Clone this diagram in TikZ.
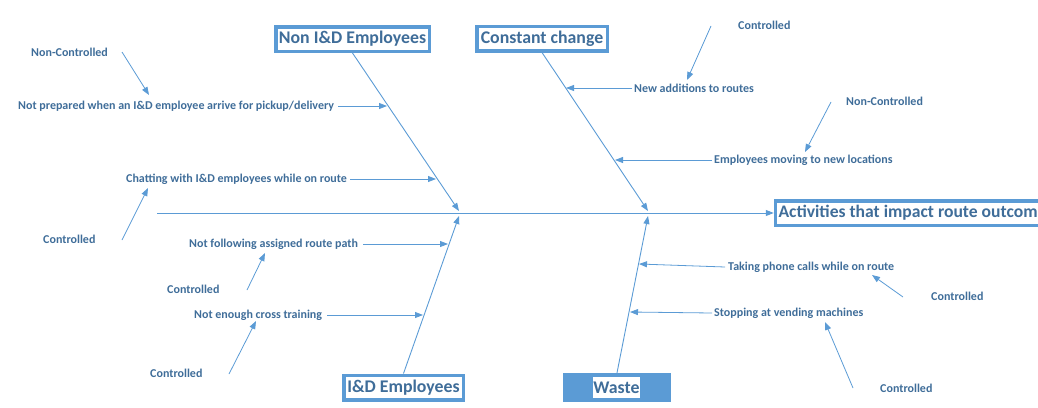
\documentclass[tikz,border=0pt]{standalone}
\usepackage{fontspec}
\setmainfont{Carlito}
\usetikzlibrary{arrows.meta}
\definecolor{acc}{HTML}{5B9BD5}
\definecolor{txt}{HTML}{3F6D99}
\begin{document}
\begin{tikzpicture}[x=1pt,y=-1pt,
  lbl/.style={font=\bfseries\fontsize{12}{14}\selectfont, text=txt, inner xsep=2pt, inner ysep=0pt, anchor=west},
  hdr/.style={draw=acc, line width=3.5pt, fill=white, font=\bfseries\fontsize{17.8}{20}\selectfont, text=txt, inner sep=0pt, minimum height=24.5pt},
  bone/.style={draw=acc, line width=0.9pt, -{Triangle[length=8pt,width=6pt]}},
  twig/.style={draw=acc, line width=0.8pt, -{Triangle[length=8pt,width=6pt]}},
]
\useasboundingbox (0,0) rectangle (1038,407);
\clip (0,0) rectangle (1038,407);

% heads
\node[hdr, minimum width=153.5pt] (nonid) at (352.5,39) {Non I\&D Employees};
\node[hdr, minimum width=130.5pt] (const) at (542,38.5) {Constant change};
\node[hdr, minimum width=119.5pt] (idemp) at (403.5,387.5) {I\&D Employees};
\node[fill=acc, minimum width=108pt, minimum height=29pt, inner sep=0pt] (waste) at (617,387.5) {};
\node[fill=white, text=txt, font=\bfseries\fontsize{17.8}{20}\selectfont, inner xsep=0.5pt, inner ysep=0pt, minimum height=21pt] (wastelbl) at (616.5,387.5) {Waste};
\node[hdr, anchor=west, inner xsep=3pt, font=\bfseries\fontsize{17.6}{20}\selectfont] (activ) at (773.75,213) {\makebox[285pt][l]{Activities that impact route outcom}};

% spine
\coordinate (tail) at (157,213);
\draw[bone] (tail) -- (activ.west);

% tips on spine
\coordinate (tipLu) at (459,211);
\coordinate (tipLd) at (459,216);
\coordinate (tipRu) at (648,211);
\coordinate (tipRd) at (648,216);
\draw[bone] (nonid.south) -- (tipLu);
\draw[bone] (const.south) -- (tipRu);
\draw[bone] (idemp.north) -- (tipLd);
\draw[bone] (waste.north) -- (tipRd);

% cause labels
\node[lbl] (c1) at (16,106) {Not prepared when an I\&D employee arrive for pickup/delivery};
\node[lbl] (c2) at (124,179) {Chatting with I\&D employees while on route};
\node[lbl] (c3) at (187,244) {Not following assigned route path};
\node[lbl] (c4) at (192,315) {Not enough cross training};
\node[lbl] (c5) at (632,88) {New additions to routes};
\node[lbl] (c6) at (712,160) {Employees moving to new locations};
\node[lbl] (c7) at (726,267) {Taking phone calls while on route};
\node[lbl] (c8) at (712,313) {Stopping at vending machines};

\coordinate (b1) at (387,106);
\coordinate (b2) at (436,179);
\coordinate (b3) at (448,244);
\coordinate (b4) at (423,315);
\coordinate (b5) at (566,88);
\coordinate (b6) at (615,160);
\coordinate (b7) at (639,264);
\coordinate (b8) at (630,312);
\draw[twig] ([xshift=2pt]c1.east) -- (b1);
\draw[twig] ([xshift=1pt]c2.east) -- (b2);
\draw[twig] ([xshift=3pt]c3.east) -- (b3);
\draw[twig] ([xshift=3pt]c4.east) -- (b4);
\draw[twig] (c5.west) -- (b5);
\draw[twig] (c6.west) -- (b6);
\draw[twig] ([xshift=-1pt]c7.west) -- (b7);
\draw[twig] (c8.west) -- (b8);

% control labels
\node[lbl] (k1) at (29,52) {Non-Controlled};
\node[lbl] (k2) at (41,239) {Controlled};
\node[lbl] (k3) at (165,289) {Controlled};
\node[lbl] (k4) at (148,373) {Controlled};
\node[lbl] (k5) at (736,25) {Controlled};
\node[lbl] (k6) at (844,101) {Non-Controlled};
\node[lbl] (k7) at (929,296) {Controlled};
\node[lbl] (k8) at (878,388) {Controlled};

\coordinate (s1) at (122,52);   \coordinate (t1) at (149,95);
\coordinate (s2) at (122,240);  \coordinate (t2) at (148,188);
\coordinate (s3) at (247,290);  \coordinate (t3) at (265,253);
\coordinate (s4) at (229,374);  \coordinate (t4) at (256,321);
\coordinate (s5) at (711,26);   \coordinate (t5) at (687,80);
\coordinate (s6) at (831,102);  \coordinate (t6) at (805,152);
\coordinate (s7) at (903,297);  \coordinate (t7) at (872,275);
\coordinate (s8) at (853,388);  \coordinate (t8) at (825,322);
\foreach \i in {1,...,8} {\draw[twig] (s\i) -- (t\i);}
\end{tikzpicture}
\end{document}
